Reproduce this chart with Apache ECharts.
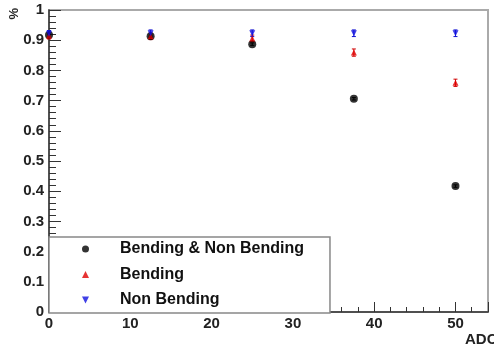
<!DOCTYPE html>
<html><head><meta charset="utf-8">
<script src="https://cdn.jsdelivr.net/npm/echarts@6/dist/echarts.min.js"></script>
<style>html,body{margin:0;padding:0;background:#fff}#c{width:494px;height:347px}</style>
</head><body><div id="c"></div>
<script>
const adc = [0, 12.5, 25, 37.5, 50];
const both = [0.917, 0.913, 0.887, 0.706, 0.417];
const bothErr = [0.004, 0.004, 0.004, 0.004, 0.004];
const bending = [0.915, 0.913, 0.906, 0.859, 0.759];
const bendingErr = [0.011, 0.011, 0.011, 0.012, 0.012];
const nonBending = [0.921, 0.923, 0.923, 0.923, 0.923];
const nonBendingErr = [0.011, 0.011, 0.011, 0.011, 0.011];
const names = ['Bending & Non Bending', 'Bending', 'Non Bending'];

const font = 'Liberation Sans, Arial, sans-serif';
const invTri = 'path://M0,0 L10,0 L5,10 Z';
function pts(ys){ return adc.map((x,i)=>[x, ys[i]]); }
function errSeries(ys, es, color){
  return {
    type: 'custom', silent: true, z: 3,
    data: adc.map((x,i)=>[x, ys[i]-es[i], ys[i]+es[i]]),
    renderItem: function(params, api){
      const lo = api.coord([api.value(0), api.value(1)]);
      const hi = api.coord([api.value(0), api.value(2)]);
      const s = {stroke: color, lineWidth: 1};
      return {type:'group', children:[
        {type:'line', shape:{x1:lo[0],y1:lo[1],x2:hi[0],y2:hi[1]}, style:s},
        {type:'line', shape:{x1:lo[0]-2,y1:lo[1],x2:lo[0]+2,y2:lo[1]}, style:s},
        {type:'line', shape:{x1:hi[0]-2,y1:hi[1],x2:hi[0]+2,y2:hi[1]}, style:s}
      ]};
    }
  };
}
const chart = echarts.init(document.getElementById('c'), null, {renderer:'canvas'});
chart.setOption({
  animation: false,
  backgroundColor: '#fff',
  grid: {left: 49, right: 6, top: 10, bottom: 35, show: true, borderColor: '#aaa', borderWidth: 2, backgroundColor: 'transparent', containLabel: false, outerBoundsMode: 'none'},
  xAxis: {
    type: 'value', min: 0, max: 54, interval: 10,
    name: 'ADC', nameLocation: 'end', nameGap: -23,
    nameTextStyle: {fontFamily: font, fontWeight: 'bold', fontSize: 15, color: '#222', align: 'left', verticalAlign: 'top', padding: [20,0,0,0]},
    axisLine: {show: true, onZero: false, lineStyle: {color: '#333', width: 1.5}},
    axisTick: {show: true, inside: true, length: 10, lineStyle: {color: '#333'}},
    minorTick: {show: true, splitNumber: 5, length: 5, lineStyle: {color: '#333'}},
    splitLine: {show: false},
    axisLabel: {fontFamily: font, fontWeight: 'bold', fontSize: 15, color: '#222', margin: 4, showMaxLabel: false,
      formatter: v => (v % 10 === 0 ? String(v) : '')}
  },
  yAxis: {
    type: 'value', min: 0, max: 1, interval: 0.1,
    axisLine: {show: true, onZero: false, lineStyle: {color: '#333', width: 1.5}},
    axisTick: {show: true, inside: true, length: 12, lineStyle: {color: '#333'}},
    minorTick: {show: true, splitNumber: 5, length: 7, lineStyle: {color: '#333'}},
    splitLine: {show: false},
    axisLabel: {fontFamily: font, fontWeight: 'bold', fontSize: 15, color: '#222', margin: 5,
      formatter: v => String(+v.toFixed(1))}
  },
  legend: {
    left: 49, top: 237, orient: 'vertical',
    data: [{name: names[0], icon: 'circle'}, {name: names[1], icon: 'triangle'}, {name: names[2], icon: invTri}],
    itemWidth: 7, itemHeight: 7, itemGap: 9.5,
    padding: [4, 26, 5, 33],
    backgroundColor: '#fff', borderColor: '#888', borderWidth: 1.5, borderRadius: 0,
    textStyle: {fontFamily: font, fontWeight: 'bold', fontSize: 16, color: '#111', lineHeight: 16, padding: [0,0,0,26]}
  },
  graphic: [{
    type: 'text', left: 8, top: 8, rotation: Math.PI/2,
    style: {text: '%', font: 'bold 13px ' + font, fill: '#222'}
  }],
  series: [
    errSeries(both, bothErr, '#000'),
    errSeries(bending, bendingErr, '#d00000'),
    errSeries(nonBending, nonBendingErr, '#1010d0'),
    {name: names[0], type: 'scatter', data: pts(both), symbol: 'circle', symbolSize: 8, itemStyle: {color: '#000'}, z: 4},
    {name: names[1], type: 'scatter', data: pts(bending), symbol: 'triangle', symbolSize: 6, itemStyle: {color: '#e00000'}, z: 5},
    {name: names[2], type: 'scatter', data: pts(nonBending), symbol: invTri, symbolSize: 6, itemStyle: {color: '#1010e0'}, z: 6}
  ]
});
</script></body></html>
